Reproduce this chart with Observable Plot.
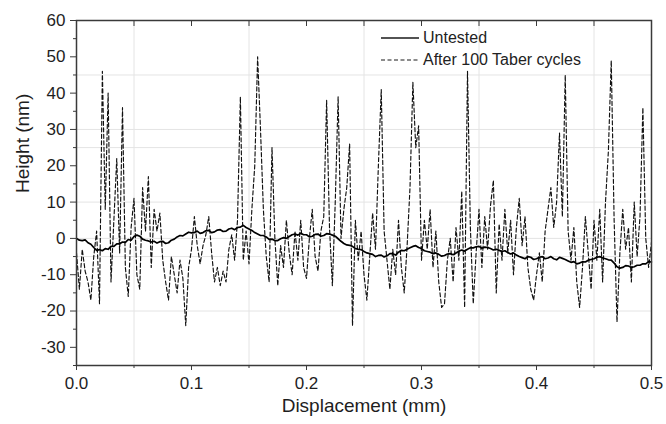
<!DOCTYPE html>
<html>
<head>
<meta charset="utf-8">
<script src="https://cdn.jsdelivr.net/npm/d3@7"></script>
<script src="https://cdn.jsdelivr.net/npm/@observablehq/plot@0.6"></script>
<style>
  html, body { margin: 0; padding: 0; background: #fff; }
  #chart { position: relative; width: 666px; height: 424px; font-family: "Liberation Sans", Arial, sans-serif; }
  #legend { position: absolute; left: 381px; top: 27px; font-size: 16px; color: #222; line-height: 22px; }
  #legend .row { display: flex; align-items: center; white-space: nowrap; }
  #legend svg { margin-right: 4px; }
</style>
</head>
<body>
<div id="chart"></div>
<script>
// Both profiles are sampled every 0.0025 mm along the scan
const sampleStep = 0.0025;

// Height (nm) after 100 Taber cycles
const afterHeight = [
  -4, -14, -3, -9, -12, -17, -5, 2, -18, 46,
  8, 40, -12, 5, 22, -4, 36, -8, -16, 3,
  11, -10, -14, 14, 2, 17, -8, 8, 2, 7,
  -6, -12, -17, -5, -10, -15, -6, -11, -24, -8,
  -3, 6, -2, -7, -2, 1, 6, -4, -12, -8,
  -13, -9, -12, -3, 1, -6, 5, 39, -6, 2,
  -7, 8, 20, 50, 30, 8, -5, -12, 25, 0,
  -13, -2, -8, 5, -4, -10, 2, -6, 5, -8,
  -11, 0, 8, -5, -9, 2, 6, 38, 3, -13,
  10, 39, 0, 8, 14, 26, -24, 5, -6, 2,
  -10, -17, -5, 7, -3, 20, 41, 2, -6, -14,
  -3, -10, 5, -8, -15, -2, 14, 43, 25, 31,
  -6, 5, -3, 8, -8, 2, -12, -19, -18, -6,
  0, -12, 3, -6, 13, -19, 46, 3, -18, -4,
  8, -8, 6, -3, 9, 16, -15, 4, -6, 8,
  -4, 5, -10, 3, 11, -2, 6, -8, -14, -17,
  -10, -4, -12, 2, 8, 14, 3, 10, 29, 6,
  45, 2, -6, 3, -12, -19, -8, 6, -4, -14,
  5, -6, 8, -12, 10, 24, 49, 5, -23, -4,
  8, -3, 3, -12, 10, -5, 6, 36, 0, -8,
  -1
];

// Height (nm) of the untested surface
const untestedHeight = [
  0, -0.5, -0.6, -0.4, -1.2, -1.6, -2.5, -3.3, -3.1, -3.4,
  -2.8, -3.0, -2.2, -2.2, -1.5, -1.5, -1.0, -1.1, -0.3, -0.5,
  0.5, 0.9, 0.6, -0.2, -0.5, -0.7, -1.0, -0.8, -1.3, -0.9,
  -0.8, -1.4, -1.2, -0.5, -0.2, 0.4, 0.8, 0.7, 1.2, 1.7,
  1.5, 1.6, 2.0, 1.4, 1.6, 2.1, 2.2, 1.6, 1.8, 2.3,
  2.4, 1.9, 2.0, 2.6, 2.8, 2.4, 3.0, 3.1, 3.6, 3.0,
  2.6, 2.2, 1.6, 1.2, 0.8, 0.8, 0.4, -0.3, -0.2, -0.6,
  -0.6, -0.1, 0.2, 0.0, 0.5, 1.0, 1.2, 0.9, 1.4, 1.0,
  1.0, 0.4, 0.6, 1.1, 1.2, 0.6, 0.8, 1.3, 1.2, 0.9,
  0.6, -0.1, -0.8, -1.4, -1.8, -1.9, -2.2, -2.8, -3.0, -3.1,
  -3.6, -4.0, -4.2, -4.4, -5.0, -4.7, -4.6, -5.1, -4.8, -4.2,
  -4.2, -4.6, -3.8, -3.3, -3.4, -3.0, -2.6, -2.2, -2.0, -2.5,
  -2.8, -3.4, -3.6, -3.8, -4.2, -4.0, -4.4, -4.9, -4.7, -4.3,
  -4.2, -4.5, -4.0, -3.5, -3.2, -3.5, -3.0, -2.6, -2.6, -2.3,
  -2.2, -2.7, -2.4, -2.5, -2.8, -3.2, -3.0, -3.3, -3.6, -3.4,
  -3.9, -4.3, -4.0, -4.6, -5.0, -5.3, -5.6, -5.0, -5.2, -5.8,
  -5.6, -5.2, -5.0, -5.6, -5.4, -5.0, -5.6, -5.9, -5.2, -5.5,
  -5.8, -6.2, -6.6, -6.4, -7.0, -6.8, -6.4, -6.5, -6.0, -5.8,
  -5.6, -5.2, -5.0, -5.4, -5.6, -5.9, -6.0, -6.8, -7.8, -8.2,
  -8.0, -7.5, -7.6, -8.0, -7.8, -7.4, -7.4, -7.0, -7.0, -6.4,
  -6.5
];

// Axis ticks and grid positions
const xMajorTicks = [0, 0.1, 0.2, 0.3, 0.4, 0.5];
const xMinorTicks = [0.05, 0.15, 0.25, 0.35, 0.45];
const yMajorTicks = [-30, -20, -10, 0, 10, 20, 30, 40, 50, 60];
const yMinorTicks = [-35, -25, -15, -5, 5, 15, 25, 35, 45, 55];
const xGridLines = [0.05, 0.15, 0.25, 0.35, 0.45];
const yGridLines = [-20, -5, 0, 10, 25, 30, 45];

const seriesNames = ["Untested", "After 100 Taber cycles"];

const after = afterHeight.map((h, i) => ({x: i * sampleStep, y: h}));
const untested = untestedHeight.map((h, i) => ({x: i * sampleStep, y: h}));

const axisColor = "#3a3a3a";
const gridColor = "#e4e4e4";
const textColor = "#1e1e1e";

const chart = Plot.plot({
  width: 666,
  height: 424,
  marginLeft: 76,
  marginRight: 15,
  marginTop: 20,
  marginBottom: 59,
  style: {fontFamily: "'Liberation Sans', Arial, sans-serif", fontSize: "17px", color: textColor, background: "#fff"},
  x: {domain: [0, 0.5]},
  y: {domain: [-35, 60]},
  marks: [
    Plot.gridX(xGridLines, {stroke: gridColor, strokeOpacity: 1, strokeWidth: 1}),
    Plot.gridY(yGridLines, {stroke: gridColor, strokeOpacity: 1, strokeWidth: 1}),
    Plot.line(after, {x: "x", y: "y", stroke: "#111", strokeWidth: 1.15, strokeDasharray: "4,2.5"}),
    Plot.line(untested, {x: "x", y: "y", stroke: "#000", strokeWidth: 1.7}),
    Plot.frame({stroke: axisColor, strokeWidth: 1.5}),
    Plot.axisX(xMajorTicks, {anchor: "bottom", tickSize: 5, tickPadding: 6, tickFormat: d => d.toFixed(1), label: null, stroke: axisColor, fill: textColor, fontSize: 17}),
    Plot.axisX(xMinorTicks, {anchor: "bottom", tickSize: 3, tickFormat: () => "", label: null, stroke: axisColor}),
    Plot.axisX(xMajorTicks.concat(xMinorTicks), {anchor: "top", tickSize: -5, tickFormat: () => "", label: null, stroke: axisColor}),
    Plot.axisY(yMajorTicks, {anchor: "left", tickSize: 6, tickPadding: 5, tickFormat: d => String(d), label: null, stroke: axisColor, fill: textColor, fontSize: 17}),
    Plot.axisY(yMinorTicks, {anchor: "left", tickSize: 3, tickFormat: () => "", label: null, stroke: axisColor}),
    Plot.text(["Displacement (mm)"], {frameAnchor: "bottom", dy: 46, fontSize: 19, fill: textColor}),
    Plot.text(["Height (nm)"], {frameAnchor: "left", dx: -54, rotate: -90, fontSize: 19, fill: textColor})
  ]
});

const root = document.getElementById("chart");
root.appendChild(chart);

// Legend drawn over the upper part of the plot area
const legend = document.createElement("div");
legend.id = "legend";
const dashes = [null, "4,2.5"];
const widths = [1.3, 1.1];
seriesNames.forEach((name, i) => {
  const row = document.createElement("div");
  row.className = "row";
  const sw = d3.create("svg").attr("width", 38).attr("height", 10);
  sw.append("line").attr("x1", 0).attr("x2", 38).attr("y1", 5).attr("y2", 5)
    .attr("stroke", "#1a1a1a").attr("stroke-width", widths[i])
    .attr("stroke-dasharray", dashes[i]);
  row.appendChild(sw.node());
  const label = document.createElement("span");
  label.textContent = name;
  row.appendChild(label);
  legend.appendChild(row);
});
root.appendChild(legend);
</script>
</body>
</html>
